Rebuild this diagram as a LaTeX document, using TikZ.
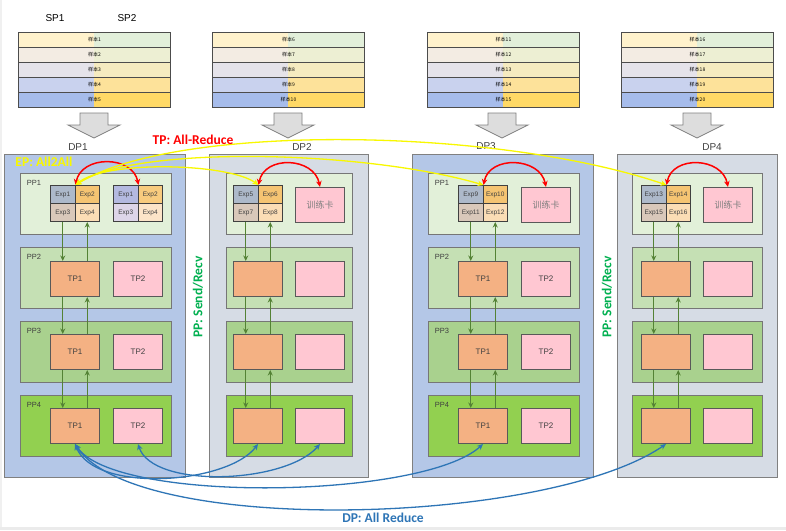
\documentclass[tikz,border=0pt]{standalone}
\usepackage{fontspec}
\setmainfont{Liberation Sans}
\newfontfamily\cjkfont{Noto Sans CJK SC}
\newfontfamily\capfont{Carlito}
\usepackage{tikz}
\usetikzlibrary{arrows.meta}

\definecolor{frame}{HTML}{808080}
\definecolor{ppframe}{HTML}{767676}
\definecolor{tpframe}{HTML}{595959}
\definecolor{dpblue}{HTML}{B4C7E7}
\definecolor{dpgray}{HTML}{D6DCE5}
\definecolor{ppA}{HTML}{E2F0D9}
\definecolor{ppB}{HTML}{C5E0B4}
\definecolor{ppC}{HTML}{A9D18E}
\definecolor{ppD}{HTML}{92D050}
\definecolor{tporange}{HTML}{F4B183}
\definecolor{tppink}{HTML}{FFC7D2}
\definecolor{expA}{HTML}{ADB9CA}
\definecolor{expB}{HTML}{F5C472}
\definecolor{expC}{HTML}{D9C8BA}
\definecolor{expD}{HTML}{FBDDB5}
\definecolor{expE}{HTML}{B4B9E0}
\definecolor{expF}{HTML}{F8CB7E}
\definecolor{expG}{HTML}{DDD5E8}
\definecolor{expH}{HTML}{FCE4C8}
\definecolor{slA}{HTML}{FFF2CC}
\definecolor{srA}{HTML}{E2EFDA}
\definecolor{slB}{HTML}{F3ECE3}
\definecolor{srB}{HTML}{EDEFD3}
\definecolor{slC}{HTML}{E5E3EA}
\definecolor{srC}{HTML}{F5EBC0}
\definecolor{slD}{HTML}{C9D2EE}
\definecolor{srD}{HTML}{FDE29A}
\definecolor{slE}{HTML}{A6BCEB}
\definecolor{srE}{HTML}{FFD966}
\definecolor{arrowgray}{HTML}{DDDDDD}
\definecolor{ppgreen}{HTML}{548235}
\definecolor{tagpp}{HTML}{00B050}
\definecolor{tpred}{HTML}{FF0000}
\definecolor{epyellow}{HTML}{F8F800}
\definecolor{dpline}{HTML}{2E75B6}
\definecolor{textgray}{HTML}{404040}
\definecolor{cardgray}{HTML}{7F7F7F}

\tikzset{
  dpbox/.style={draw=frame, line width=1.2pt, anchor=north west, inner sep=0pt},
  ppbox/.style={draw=ppframe, line width=1pt, anchor=north west, minimum height=61pt, inner sep=0pt},
  tpbox/.style={draw=tpframe, line width=1pt, anchor=north west, minimum width=49pt,
    minimum height=35pt, inner sep=0pt, text=textgray, font=\fontsize{8}{9}\selectfont},
  expcell/.style={draw=black!75, line width=1pt, anchor=north west, minimum width=24.5pt,
    minimum height=18pt, inner sep=0pt, text=textgray, font=\fontsize{6.5}{7}\selectfont},
  samplerow/.style={draw=black!70, line width=1pt, anchor=north west, minimum width=152pt,
    minimum height=15pt, inner sep=0pt, font=\cjkfont\fontsize{5}{5}\selectfont},
  pplabel/.style={text=textgray, font=\fontsize{7.5}{8}\selectfont},
  tip/.style={-{Stealth[length=5.5pt,width=5pt]}},
  pparrow/.style={draw=ppgreen, line width=1.3pt},
  tparrow/.style={draw=tpred, line width=1.5pt, {Stealth[length=6pt,width=5.5pt]}-{Stealth[length=6pt,width=5.5pt]}},
  eparrow/.style={draw=epyellow, line width=1.3pt, {Stealth[length=6pt,width=5.5pt]}-{Stealth[length=6pt,width=5.5pt]}},
  dparrow/.style={draw=dpline, line width=1.3pt, {Stealth[length=6pt,width=5.5pt]}-{Stealth[length=6pt,width=5.5pt]}},
  bigtag/.style={font=\capfont\bfseries\fontsize{13.5}{14}\selectfont},
}

\begin{document}
\begin{tikzpicture}[x=1pt,y=-1pt]
    \useasboundingbox (0,0) rectangle (786,530);
    \fill[white] (0,0) rectangle (786,530);
    \fill[black!8] (0,527) rectangle (786,530);
    \fill[black!6] (0,0) rectangle (1.5,527);

    % sample tables
    \foreach \sx/\sn [count=\k] in {18/1,212/6,427/11,621/16}{
      \foreach \r/\lc/\rc in {0/slA/srA,1/slB/srB,2/slC/srC,3/slD/srD,4/slE/srE}{
        \pgfmathtruncatemacro\num{\sn+\r}
        \fill[\lc] (\sx,32+15*\r) rectangle (\sx+76,47+15*\r);
        \fill[\rc] (\sx+76,32+15*\r) rectangle (\sx+152,47+15*\r);
        \node[samplerow] (s\k r\r) at (\sx,32+15*\r) {样本\num};
      }
    }
    \node (sp1) at (55,18) {\fontsize{10}{11}\selectfont SP1};
    \node (sp2) at (127,18) {\fontsize{10}{11}\selectfont SP2};

    % block arrows
    \foreach \ax in {94,288,502,697}
      \draw[fill=arrowgray, draw=frame, line width=0.8pt]
        (\ax-14,113) -- (\ax+14,113) -- (\ax+14,125) -- (\ax+26,125)
        -- (\ax,138) -- (\ax-26,125) -- (\ax-14,125) -- cycle;

    % DP and PP frames, TP boxes
    \foreach \k/\dx/\dw/\px/\pw/\lx/\rx/\fc/\ta/\tb in
      {1/4/181/20/151/50/113/dpblue/TP1/TP2, 2/209/159/226/126/233/295/dpgray/{}/{},
       3/412/181/428/151/458/521/dpblue/TP1/TP2, 4/617/160/632/130/641/703/dpgray/{}/{}}{
      \node[dpbox, fill=\fc, minimum width=\dw pt, minimum height=323pt] (dp\k) at (\dx,154) {};
      \foreach \p/\py/\pc in {1/173/ppA,2/247/ppB,3/321/ppC,4/395/ppD}
        \node[ppbox, fill=\pc, minimum width=\pw pt] (pp\k\p) at (\px,\py) {};
      \foreach \p/\py in {2/261,3/334,4/408}{
        \node[tpbox, fill=tporange] (tl\k\p) at (\lx,\py) {\ta};
        \node[tpbox, fill=tppink] (tr\k\p) at (\rx,\py) {\tb};
      }
    }

    \node[above, font=\fontsize{10}{11}\selectfont, text=textgray] (dpt1) at (78,154) {DP1};
    \node[above, font=\fontsize{10}{11}\selectfont, text=textgray] (dpt2) at (302,154) {DP2};
    \node[above, font=\fontsize{10}{11}\selectfont, text=textgray] (dpt3) at (486,153) {DP3};
    \node[above, font=\fontsize{10}{11}\selectfont, text=textgray] (dpt4) at (712,154) {DP4};

    \foreach \k in {1,3}
      \foreach \p in {1,...,4}
        \node[pplabel] (ppl\k\p) at ([xshift=14pt,yshift=-10pt]pp\k\p.north west) {PP\p};

    % expert grids
    \foreach \k/\lx/\na/\nb/\nc/\nd in {1/50/1/2/3/4,2/233/5/6/7/8,3/458/9/10/11/12,4/641/13/14/15/16}{
      \node[expcell, fill=expA] (e\k a) at (\lx,185) {Exp\na};
      \node[expcell, fill=expB] (e\k b) at (\lx+24.5,185) {Exp\nb};
      \node[expcell, fill=expC] (e\k c) at (\lx,203) {Exp\nc};
      \node[expcell, fill=expD] (e\k d) at (\lx+24.5,203) {Exp\nd};
    }
    \node[expcell, fill=expE] (g1a) at (113,185) {Exp1};
    \node[expcell, fill=expF] (g1b) at (137.5,185) {Exp2};
    \node[expcell, fill=expG] (g1c) at (113,203) {Exp3};
    \node[expcell, fill=expH] (g1d) at (137.5,203) {Exp4};

    \foreach \k/\rx in {2/295,3/521,4/703}
      \node[tpbox, fill=tppink, text=cardgray, font=\cjkfont\fontsize{9}{9}\selectfont] (c\k) at (\rx,187) {训练卡};

    % PP send/recv
    \foreach \k in {1,...,4}{
      \draw[pparrow,tip] (e\k c.south) -- (e\k c.south |- tl\k2.north);
      \draw[pparrow,tip] (e\k d.south |- tl\k2.north) -- (e\k d.south);
      \foreach \p/\q in {2/3,3/4}{
        \draw[pparrow,tip] (e\k c.south |- tl\k\p.south) -- (e\k c.south |- tl\k\q.north);
        \draw[pparrow,tip] (e\k d.south |- tl\k\q.north) -- (e\k d.south |- tl\k\p.south);
      }
    }

    % TP all-reduce
    \coordinate (tgt1) at (g1a.north east);
    \foreach \k in {2,3,4}
      \coordinate (tgt\k) at (c\k.north);
    \foreach \k in {1,...,4}
      \draw[tparrow] (e\k a.north east) .. controls +(6,-30) and +(-6,-30) .. (tgt\k);

    % EP all2all
    \draw[eparrow] (e1a.north east) .. controls +(30,-25) and +(-30,-22) .. (e2a.north east);
    \draw[eparrow] (e1a.north east) .. controls +(60,-40) and +(-120,-35) .. (e3a.north east);
    \draw[eparrow] (e1a.north east) .. controls +(100,-62) and +(-170,-58) .. (e4a.north east);

    % DP all reduce
    \draw[dparrow] (tl14.south) .. controls +(20,50) and +(-30,40) .. (tl24.south);
    \draw[dparrow] (tr14.south) .. controls +(15,45) and +(-35,40) .. (tr24.south);
    \draw[dparrow] (tl14.south) .. controls +(40,60) and +(-60,55) .. (tl34.south);
    \draw[dparrow] (tl14.south) .. controls +(60,92) and +(-120,82) .. (tl44.south);

    \node[bigtag, text=tpred] (tptag) at (193,140) {TP: All-Reduce};
    \node[bigtag, text=epyellow] (eptag) at (44,162) {EP: All2All};
    \node[bigtag, text=tagpp, rotate=90] (pptag1) at (198,297) {PP: Send/Recv};
    \node[bigtag, text=tagpp, rotate=90] (pptag2) at (607,297) {PP: Send/Recv};
    \node[bigtag, text=dpline] (dptag) at (383,518) {DP: All Reduce};
\end{tikzpicture}
\end{document}
